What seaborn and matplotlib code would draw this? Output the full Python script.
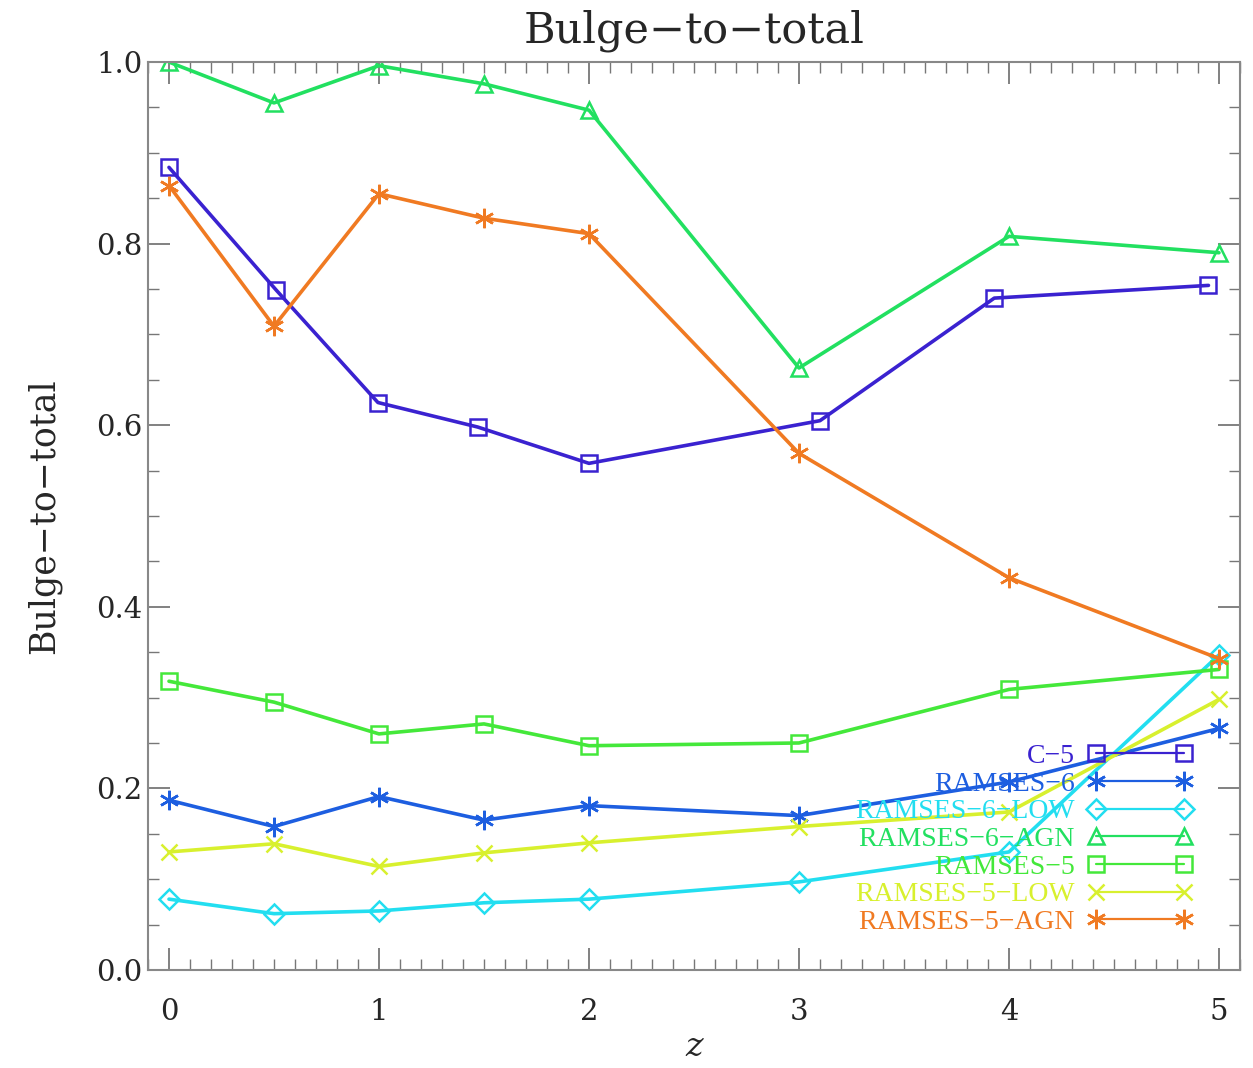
import matplotlib
matplotlib.use("Agg")
import matplotlib.pyplot as plt
import seaborn as sns
import numpy as np
from matplotlib.ticker import MultipleLocator

# ---- data ----
z_std = [0, 0.5, 1, 1.5, 2, 3, 4, 5]
z_c5 = [0, 0.51, 0.995, 1.47, 2.0, 3.1, 3.93, 4.95]

c5 = [0.884, 0.749, 0.625, 0.598, 0.558, 0.605, 0.740, 0.754]
ramses6 = [0.187, 0.158, 0.191, 0.165, 0.181, 0.170, 0.207, 0.266]
ramses6_low = [0.078, 0.062, 0.065, 0.074, 0.078, 0.097, 0.130, 0.347]
ramses6_agn = [1.0, 0.955, 0.996, 0.976, 0.947, 0.663, 0.808, 0.790]
ramses5 = [0.318, 0.295, 0.260, 0.271, 0.247, 0.250, 0.309, 0.331]
ramses5_low = [0.130, 0.139, 0.114, 0.129, 0.140, 0.158, 0.174, 0.298]
ramses5_agn = [0.864, 0.709, 0.855, 0.828, 0.811, 0.569, 0.432, 0.343]

labels = ["C\u22125", "RAMSES\u22126", "RAMSES\u22126\u2212LOW", "RAMSES\u22126\u2212AGN",
          "RAMSES\u22125", "RAMSES\u22125\u2212LOW", "RAMSES\u22125\u2212AGN"]

sns.set_theme(style="ticks")
plt.rcParams['font.family'] = ['DejaVu Serif']

fig = plt.figure(figsize=(12.53, 10.68), dpi=100)
ax = fig.add_axes([0.1181, 0.0918, 0.8715, 0.8501])

ast = (6, 2, 0)
series = [
    (z_c5, c5, "#3a22d0", "s", 12, True),
    (z_std, ramses6, "#1d5ee0", ast, 14, False),
    (z_std, ramses6_low, "#22def0", "D", 10, True),
    (z_std, ramses6_agn, "#22e060", "^", 12, True),
    (z_std, ramses5, "#44e83a", "s", 12, True),
    (z_std, ramses5_low, "#d8f02e", "x", 12, False),
    (z_std, ramses5_agn, "#f07a22", ast, 14, False),
]

for (zz, vals, col, mk, ms, hollow), lab in zip(series, labels):
    kw = dict(markerfacecolor="none") if hollow else {}
    sns.lineplot(x=zz, y=vals, ax=ax, color=col, marker=mk, markersize=ms,
                 markeredgecolor=col, markeredgewidth=1.8, linewidth=2.6,
                 label=lab, **kw)

ax.set_xlim(-0.1, 5.1)
ax.set_ylim(0.0, 1.0)
ax.xaxis.set_major_locator(MultipleLocator(1))
ax.xaxis.set_minor_locator(MultipleLocator(0.1))
ax.yaxis.set_major_locator(MultipleLocator(0.2))
ax.yaxis.set_minor_locator(MultipleLocator(0.05))
ax.yaxis.set_major_formatter(matplotlib.ticker.FormatStrFormatter('%.1f'))
ax.tick_params(which='both', direction='in', top=True, right=True, color='#777777')
ax.tick_params(which='major', length=16, width=1.3, labelsize=21)
ax.tick_params(axis='y', which='major', pad=4)
ax.tick_params(axis='x', which='major', pad=20)
ax.tick_params(which='minor', length=8, width=1.0)
for s in ax.spines.values():
    s.set_color('#888888')
    s.set_linewidth(1.5)

ax.set_title("Bulge\u2212to\u2212total", fontsize=31, pad=14)
ax.set_ylabel("Bulge\u2212to\u2212total", fontsize=25, labelpad=25)
ax.set_xlabel("z", fontsize=24, style='italic', labelpad=4)

leg = ax.legend(loc='lower right', bbox_to_anchor=(0.972, 0.02), frameon=False,
                markerfirst=False, labelcolor='linecolor', numpoints=2,
                handlelength=3.8, handletextpad=0.45, labelspacing=0.08,
                borderaxespad=0.2,
                prop={'family': 'Liberation Serif', 'size': 20})
for h in leg.legend_handles:
    h.set_linewidth(1.6)

fig.savefig("out.png", dpi=100)
